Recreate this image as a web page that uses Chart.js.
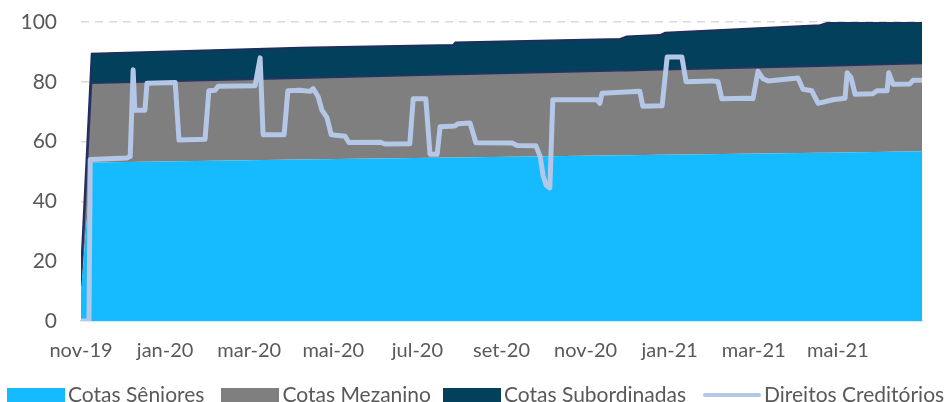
<!DOCTYPE html>
<html lang="pt">
<head>
  <meta charset="UTF-8" />
  <title>Cotas x Direitos Creditórios</title>
  <style>
    body {
      margin: 0;
      background: #ffffff;
      font-family: Lato, "Open Sans", sans-serif;
      overflow: hidden;
    }
    .wrap {
      position: relative;
      width: 948px;
      height: 402px;
    }
    .legend {
      position: absolute;
      left: 7px;
      top: 383px;
      display: flex;
      align-items: center;
      height: 21px;
      color: #595959;
      font-size: 21px;
      line-height: 21px;
      white-space: nowrap;
    }
    .legend .item {
      display: flex;
      align-items: center;
    }
    .legend .box {
      width: 58px;
      height: 14px;
      margin-right: 3px;
      margin-top: 3px;
    }
    .legend .line {
      width: 58px;
      height: 4px;
      border-radius: 2px;
      margin-right: 3px;
      margin-top: 3px;
    }
  </style>
</head>
<body>
  <div class="wrap">
    <canvas id="chart"></canvas>
    <div class="legend" id="legend"></div>
  </div>
  <script src="https://cdn.jsdelivr.net/npm/chart.js"></script>
  <script>
    // x is measured in months from nov-19
    const tickMonths = [0, 2, 4, 6, 8, 10, 12, 14, 16, 18];
    const tickLabels = ["nov-19", "jan-20", "mar-20", "mai-20", "jul-20", "set-20", "nov-20", "jan-21", "mar-21", "mai-21"];

    const seriesNames = ["Cotas Sêniores", "Cotas Mezanino", "Cotas Subordinadas", "Direitos Creditórios"];
    const seriesColors = ["#15BAFF", "#7F7F7F", "#03405B", "#B4C7E7"];

    const areaMonths = [0, 0.25, 5.2, 8.85, 8.9, 12.82, 12.98, 13.77, 13.89, 17.57, 17.76, 20];
    const senior = [10, 53, 54, 54.7, 54.7, 55.4, 55.4, 55.6, 55.6, 56.3, 56.3, 56.8];
    const mezanino = [1.5, 26.5, 27.2, 27.7, 27.7, 28.3, 28.3, 28.4, 28.4, 28.9, 29.0, 29.3];
    const subordinada = [6.5, 10, 10.3, 10.0, 10.8, 10.7, 11.5, 11.7, 12.5, 13.8, 14.5, 13.8];

    const dcMonths = [0, 0.19, 0.22, 1.09, 1.17, 1.24, 1.28, 1.52, 1.57, 2.24, 2.33, 2.95, 3.04, 3.19, 3.26, 4.14, 4.26, 4.33,
      4.83, 4.92, 5.21, 5.45, 5.52, 5.64, 5.73, 5.85, 5.95, 6.28, 6.37, 7.11, 7.23, 7.82, 7.90, 8.20, 8.30, 8.47, 8.54,
      8.89, 8.97, 9.25, 9.32, 9.39, 10.25, 10.37, 10.82, 10.92, 10.99, 11.06, 11.15, 11.22, 12.27, 12.34, 12.39, 13.29,
      13.36, 13.82, 13.94, 14.29, 14.39, 15.01, 15.15, 15.24, 15.86, 15.98, 16.10, 16.22, 16.34, 17.05, 17.17, 17.38,
      17.53, 17.88, 18.17, 18.22, 18.31, 18.41, 18.83, 18.93, 19.17, 19.21, 19.31, 19.71, 19.79, 20];
    const dcValues = [0, 0, 54, 54.5, 55, 84, 70.5, 70.5, 79.5, 79.8, 60.5, 60.8, 77, 77.2, 78.5, 78.7, 88, 62.3,
      62.3, 77, 77.2, 76.8, 77.7, 75, 70.5, 68, 62.3, 61.8, 59.7, 59.8, 59.2, 59.3, 74.3, 74.3, 55.8, 55.8, 65,
      65.2, 66, 66.2, 63, 59.6, 59.5, 58.7, 58.6, 55, 48.5, 45.5, 44.5, 74, 74, 72.8, 76.2, 76.8,
      71.8, 72, 88.3, 88.3, 80, 80.3, 80, 74.3, 74.5, 74.3, 83.5, 81, 80.3, 81.3, 77.5, 77,
      72.8, 74, 74.5, 83, 81.5, 75.8, 76, 77, 77, 83, 79.2, 79.3, 80.5, 80.5];

    const toPoints = (xs, ys) => xs.map((x, i) => ({ x: x, y: ys[i] }));

    const areaSeries = [senior, mezanino, subordinada];
    const areaBorders = ["#15BAFF", "#2C3163", "#252A5E"];

    const datasets = areaSeries.map((vals, i) => ({
      label: seriesNames[i],
      data: toPoints(areaMonths, vals),
      backgroundColor: seriesColors[i],
      borderColor: areaBorders[i],
      borderWidth: i === 0 ? 0 : 1.5,
      fill: i === 0 ? "origin" : "-1",
      pointRadius: 0,
      tension: 0,
      stack: "cotas",
      order: 1
    }));

    datasets.push({
      label: seriesNames[3],
      data: toPoints(dcMonths, dcValues),
      borderColor: seriesColors[3],
      borderWidth: 5,
      borderJoinStyle: "round",
      borderCapStyle: "round",
      fill: false,
      pointRadius: 0,
      tension: 0,
      stack: "dc",
      order: 0
    });

    const textColor = "#595959";

    new Chart(document.getElementById("chart"), {
      type: "line",
      data: { datasets: datasets },
      options: {
        responsive: true,
        maintainAspectRatio: false,
        animation: false,
        layout: { padding: { top: 22, right: 26, left: 0, bottom: 0 } },
        plugins: {
          legend: { display: false },
          tooltip: { enabled: false }
        },
        scales: {
          x: {
            type: "linear",
            min: 0,
            max: 20,
            afterBuildTicks: axis => {
              axis.ticks = tickMonths.map(v => ({ value: v }));
            },
            afterFit: axis => { axis.height = 81; },
            grid: { display: false, drawTicks: false },
            border: { display: true, color: "#BDD7EE", width: 1.5 },
            ticks: {
              autoSkip: false,
              maxRotation: 0,
              padding: 18,
              color: textColor,
              font: { family: "Lato", size: 20 },
              callback: v => {
                const i = tickMonths.indexOf(v);
                return i >= 0 ? tickLabels[i] : "";
              }
            }
          },
          y: {
            stacked: true,
            min: 0,
            max: 100,
            afterFit: axis => { axis.width = 81; },
            grid: {
              drawTicks: true,
              tickLength: 20,
              tickColor: "rgba(0,0,0,0)",
              lineWidth: 1.5,
              color: c => (c.tick && c.tick.value === 0 ? "rgba(0,0,0,0)" : "#D9D9D9")
            },
            border: { display: false, dash: [8, 6] },
            ticks: {
              stepSize: 20,
              padding: 4,
              color: textColor,
              font: { family: "Lato", size: 21 }
            }
          }
        }
      }
    });

    // legend
    const legend = document.getElementById("legend");
    const itemGaps = [17, 12, 17, 0];
    seriesNames.forEach((name, i) => {
      const item = document.createElement("div");
      item.className = "item";
      item.style.marginRight = itemGaps[i] + "px";
      const mark = document.createElement("span");
      mark.className = i === 3 ? "line" : "box";
      mark.style.background = seriesColors[i];
      const txt = document.createElement("span");
      txt.textContent = name;
      item.appendChild(mark);
      item.appendChild(txt);
      legend.appendChild(item);
    });
  </script>
</body>
</html>
